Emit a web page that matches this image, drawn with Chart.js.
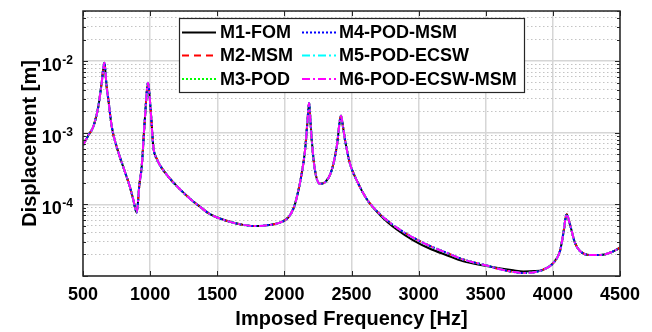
<!DOCTYPE html>
<html>
<head>
<meta charset="utf-8">
<script src="https://cdn.jsdelivr.net/npm/chart.js@4"></script>
<style>
html, body { margin: 0; padding: 0; background: #fff; }
</style>
</head>
<body>
<canvas id="chart" width="652" height="332"></canvas>
<script>
"use strict";
// imposed frequency [Hz]
const frequencies = [500, 540, 577, 614, 639, 659, 676, 689, 714, 751, 800, 850, 875, 900, 920, 937, 962, 984, 1004, 1024, 1050, 1074, 1148, 1223, 1297, 1380, 1446, 1570, 1694, 1794, 1893, 1967, 2029, 2070, 2091, 2129, 2154, 2171, 2184, 2194, 2204, 2228, 2265, 2303, 2352, 2390, 2422, 2437, 2452, 2489, 2539, 2613, 2712, 2837, 2960, 3085, 3209, 3333, 3507, 3600, 3705, 3780, 3860, 3929, 4003, 4053, 4077, 4103, 4127, 4164, 4202, 4276, 4351, 4425, 4500];
// M1 full order model displacement [m]
const fomValues = [6.7e-4, 9.2e-4, 1.22e-3, 2.32e-3, 4.97e-3, 9.5e-3, 4.4e-3, 2.89e-3, 1.22e-3, 6.35e-4, 3.32e-4, 1.74e-4, 1.16e-4, 7.7e-5, 1.9e-4, 3.3e-4, 1.68e-3, 4.97e-3, 2.09e-3, 6.35e-4, 4.3e-4, 3.5e-4, 2.28e-4, 1.62e-4, 1.2e-4, 9.0e-5, 7.3e-5, 5.9e-5, 5.17e-5, 4.97e-5, 5.17e-5, 5.57e-5, 6.56e-5, 9.0e-5, 1.22e-4, 2.68e-4, 5.7e-4, 1.36e-3, 2.6e-3, 1.5e-3, 7.9e-4, 2.98e-4, 1.94e-4, 2.04e-4, 2.98e-4, 6.35e-4, 1.72e-3, 1.2e-3, 7.9e-4, 3.7e-4, 2.16e-4, 1.19e-4, 7.1e-5, 4.45e-5, 3.15e-5, 2.4e-5, 1.95e-5, 1.6e-5, 1.38e-5, 1.28e-5, 1.2e-5, 1.16e-5, 1.17e-5, 1.23e-5, 1.52e-5, 2.23e-5, 3.83e-5, 7.3e-5, 5.3e-5, 2.92e-5, 2.23e-5, 1.96e-5, 1.96e-5, 2.11e-5, 2.48e-5];
// M2..M6 reduced models (practically identical to each other)
const romValues = [6.7e-4, 9.2e-4, 1.22e-3, 2.32e-3, 4.97e-3, 9.5e-3, 4.4e-3, 2.89e-3, 1.22e-3, 6.35e-4, 3.32e-4, 1.74e-4, 1.16e-4, 7.7e-5, 1.9e-4, 3.3e-4, 1.68e-3, 4.97e-3, 2.09e-3, 6.35e-4, 4.3e-4, 3.5e-4, 2.28e-4, 1.62e-4, 1.2e-4, 9.0e-5, 7.3e-5, 5.9e-5, 5.17e-5, 4.97e-5, 5.17e-5, 5.57e-5, 6.56e-5, 9.0e-5, 1.22e-4, 2.68e-4, 5.7e-4, 1.36e-3, 2.6e-3, 1.5e-3, 7.9e-4, 2.98e-4, 1.94e-4, 2.04e-4, 2.98e-4, 6.35e-4, 1.72e-3, 1.2e-3, 7.9e-4, 3.7e-4, 2.16e-4, 1.19e-4, 7.3e-5, 4.75e-5, 3.43e-5, 2.62e-5, 2.11e-5, 1.7e-5, 1.4e-5, 1.25e-5, 1.14e-5, 1.1e-5, 1.13e-5, 1.23e-5, 1.52e-5, 2.23e-5, 3.83e-5, 7.3e-5, 5.3e-5, 2.92e-5, 2.23e-5, 1.96e-5, 1.96e-5, 2.11e-5, 2.48e-5];
const seriesNames = ["M1-FOM", "M2-MSM", "M3-POD", "M4-POD-MSM", "M5-POD-ECSW", "M6-POD-ECSW-MSM"];
const seriesColors = ["#000000", "#ff0000", "#00ff00", "#0000ff", "#00ffff", "#ff00ff"];
const seriesDashes = [[], [7, 5], [2, 2], [2, 2], [8, 3, 2, 3], [8, 3, 2, 3]];
const xTickValues = [500, 1000, 1500, 2000, 2500, 3000, 3500, 4000, 4500];
const yMajorTicks = [1e-2, 1e-3, 1e-4];
const yMin = 1e-5;
const yMax = 5e-2;

const FONT = "'Liberation Sans', Arial, Helvetica, sans-serif";
const AXIS_COLOR = "#262626";

function isDecade(v) {
    const l = Math.log10(v);
    return Math.abs(l - Math.round(l)) < 1e-9;
}

function yGridValues() {
    const out = [];
    for (let e = -5; e <= -2; e++) {
        for (let k = 1; k <= 9; k++) {
            const v = k * Math.pow(10, e);
            if (v >= yMin * 0.999 && v <= yMax * 1.001) out.push(v);
        }
    }
    return out;
}

const datasets = seriesNames.map((name, i) => ({
    label: name,
    data: frequencies.map((f, j) => ({ x: f, y: (i === 0 ? fomValues : romValues)[j] })),
    borderColor: seriesColors[i],
    borderDash: seriesDashes[i],
    borderWidth: 2,
    pointRadius: 0,
    fill: false,
    cubicInterpolationMode: "monotone",
    order: seriesNames.length - i,
}));

// axis box, inside tick marks, y labels with exponents and the two-column legend
const decorations = {
    id: "decorations",
    afterDraw(chart) {
        const ctx = chart.ctx;
        const area = chart.chartArea;
        const xs = chart.scales.x;
        const ys = chart.scales.y;
        ctx.save();

        // inside tick marks
        ctx.strokeStyle = AXIS_COLOR;
        ctx.lineWidth = 1;
        ctx.beginPath();
        xTickValues.forEach((v) => {
            const px = Math.round(xs.getPixelForValue(v)) + 0.5;
            ctx.moveTo(px, area.bottom); ctx.lineTo(px, area.bottom - 5);
            ctx.moveTo(px, area.top); ctx.lineTo(px, area.top + 5);
        });
        yGridValues().forEach((v) => {
            const py = Math.round(ys.getPixelForValue(v)) + 0.5;
            const len = isDecade(v) ? 5 : 3;
            ctx.moveTo(area.left, py); ctx.lineTo(area.left + len, py);
            ctx.moveTo(area.right, py); ctx.lineTo(area.right - len, py);
        });
        ctx.stroke();

        // box
        ctx.lineWidth = 1.5;
        ctx.strokeRect(area.left, area.top, area.right - area.left, area.bottom - area.top);

        // y tick labels 10^n
        ctx.fillStyle = "#000";
        ctx.textBaseline = "alphabetic";
        yMajorTicks.forEach((v) => {
            const py = ys.getPixelForValue(v);
            const exp = String(Math.round(Math.log10(v)));
            ctx.font = "bold 12px " + FONT;
            const ew = ctx.measureText(exp).width;
            const right = area.left - 10;
            ctx.textAlign = "right";
            ctx.fillText(exp, right, py + 3);
            ctx.font = "bold 18px " + FONT;
            ctx.fillText("10", right - ew - 0.5, py + 10);
        });

        // legend
        const lx = 179, ly = 18, lw = 345, lh = 74;
        ctx.fillStyle = "#fff";
        ctx.fillRect(lx, ly, lw, lh);
        ctx.strokeStyle = AXIS_COLOR;
        ctx.lineWidth = 1.2;
        ctx.strokeRect(lx + 0.5, ly + 0.5, lw, lh);
        const colLine = [lx + 3, lx + 123];
        const colText = [lx + 41, lx + 160];
        const rowY = [ly + 14.5, ly + 37.5, ly + 61];
        ctx.font = "bold 18px " + FONT;
        ctx.textAlign = "left";
        ctx.textBaseline = "middle";
        datasets.forEach((ds, i) => {
            const c = Math.floor(i / 3);
            const r = i % 3;
            ctx.strokeStyle = ds.borderColor;
            ctx.lineWidth = 2;
            ctx.setLineDash(ds.borderDash);
            ctx.beginPath();
            ctx.moveTo(colLine[c], rowY[r]);
            ctx.lineTo(colLine[c] + 34, rowY[r]);
            ctx.stroke();
            ctx.setLineDash([]);
            ctx.fillStyle = "#000";
            ctx.fillText(ds.label, colText[c], rowY[r] + 1);
        });
        ctx.restore();
    },
};

new Chart(document.getElementById("chart"), {
    type: "line",
    data: { datasets },
    plugins: [decorations],
    options: {
        responsive: false,
        animation: false,
        layout: { padding: { top: 11, right: 32, left: 0, bottom: 0 } },
        plugins: { legend: { display: false }, tooltip: { enabled: false } },
        scales: {
            x: {
                type: "linear",
                min: 500,
                max: 4500,
                afterBuildTicks: (scale) => { scale.ticks = xTickValues.map((v) => ({ value: v })); },
                afterFit: (scale) => { scale.height = 56; },
                border: { display: false },
                grid: { color: "#d6d6d6", lineWidth: 1.5, drawTicks: false },
                ticks: {
                    padding: 8,
                    color: "#000",
                    font: { family: FONT, size: 18, weight: "bold" },
                    maxRotation: 0,
                    callback: (v) => String(v),
                },
                title: {
                    display: true,
                    text: "Imposed Frequency [Hz]",
                    color: "#000",
                    font: { family: FONT, size: 20, weight: "bold" },
                    padding: { top: 0, bottom: 1 },
                },
            },
            y: {
                type: "logarithmic",
                min: yMin,
                max: yMax,
                afterBuildTicks: (scale) => { scale.ticks = yGridValues().map((v) => ({ value: v })); },
                afterFit: (scale) => { scale.width = 83; },
                border: {
                    display: false,
                    dash: (c) => (c.tick && !isDecade(c.tick.value) ? [1.5, 2.5] : []),
                },
                grid: {
                    drawTicks: false,
                    color: (c) => (c.tick && isDecade(c.tick.value) ? "#d6d6d6" : "#c4c4c4"),
                    lineWidth: (c) => (c.tick && isDecade(c.tick.value) ? 1.5 : 1),
                },
                ticks: { display: false },
                title: {
                    display: true,
                    text: "Displacement [m]",
                    color: "#000",
                    font: { family: FONT, size: 20, weight: "bold" },
                    padding: { top: 18, bottom: 0 },
                },
            },
        },
    },
});
</script>
</body>
</html>
